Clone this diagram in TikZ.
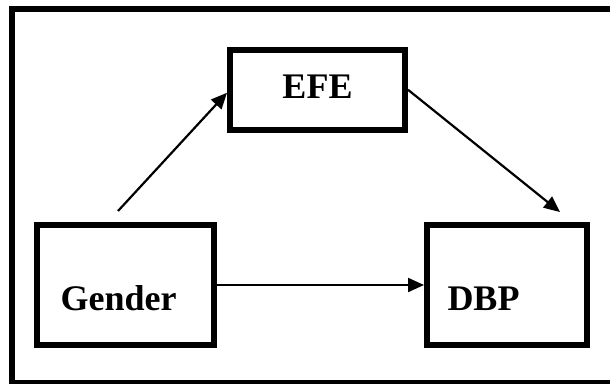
\documentclass[tikz,border=0pt]{standalone}
\usepackage{fontspec}
\setmainfont{Liberation Serif}
\usetikzlibrary{arrows.meta,calc}
\begin{document}
\begin{tikzpicture}[x=1pt,y=-1pt,
  box/.style={draw,line width=6pt,inner sep=0pt},
  lbl/.style={anchor=base,inner sep=0pt,font=\fontsize{36}{36}\selectfont\bfseries},
  link/.style={line width=2.2pt,-{Triangle[length=16pt,width=14pt]}}]
  \useasboundingbox (0,0) rectangle (610,383);
  \begin{scope}
    \clip (0,0) rectangle (610,383);
    % outer frame (runs past the right and bottom edges)
    \draw[line width=6pt] (12,9) rectangle (620,383);
  \end{scope}
  % boxes
  \node[box,minimum width=175pt,minimum height=80.5pt] (EFE) at (317.5,89.75) {};
  \node[box,minimum width=177pt,minimum height=120pt] (Gender) at (125.5,285) {};
  \node[box,minimum width=160pt,minimum height=120pt] (DBP) at (507,285) {};
  % labels
  \node[lbl] (tEFE) at (317.5,98) {EFE};
  \node[lbl] (tGender) at (118.5,310) {Gender};
  \node[lbl] (tDBP) at (483.5,310) {DBP};
  % connectors
  \draw[link] ($(Gender.north)+(-7.5,-11)$) -- ($(EFE.west)+(0,3)$);
  \draw[link] (EFE.east) -- ($(DBP.north)+(53,-10)$);
  \draw[link] (Gender.east) -- (DBP.west);
\end{tikzpicture}
\end{document}
